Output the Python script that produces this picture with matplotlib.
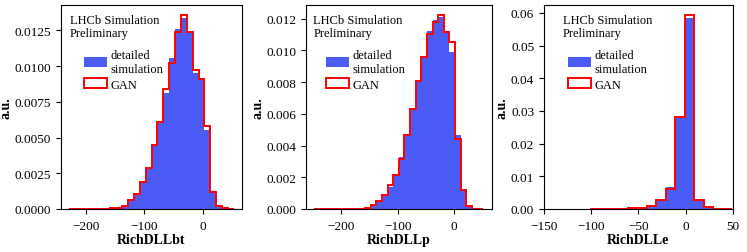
import matplotlib
matplotlib.use("Agg")
import matplotlib.pyplot as plt
from matplotlib.ticker import MultipleLocator
import numpy as np

plt.rcParams['font.family'] = ['Liberation Serif', 'DejaVu Serif']

# bin edges (10 units wide) and normalised bin contents
edges_bt = np.arange(-228, 53, 10)
sim_bt = [0.00001, 0.00001, 0.00001, 0.00001, 0.00002, 0.00002, 0.00003, 0.00004,
          0.00006, 0.0002, 0.00055, 0.001, 0.0018, 0.0028, 0.0044, 0.006,
          0.0081, 0.0106, 0.01257, 0.01336, 0.0123, 0.0095, 0.0092, 0.0055,
          0.0012, 0.00022, 0.00004, 0.00001]
gan_bt = [0.00001, 0.00001, 0.00001, 0.00001, 0.00002, 0.00002, 0.00003, 0.00004,
          0.00008, 0.00023, 0.0006, 0.00107, 0.00187, 0.0029, 0.0045, 0.0061,
          0.0084, 0.0102, 0.0124, 0.0136, 0.0124, 0.0097, 0.0091, 0.0058,
          0.0012, 0.0002, 0.00005, 0.00001]

edges_p = np.arange(-248, 53, 10)
sim_p = [0.00001, 0.00001, 0.00001, 0.00001, 0.00001, 0.00002, 0.00002, 0.00002, 0.00003,
         0.00005, 0.00022, 0.0005, 0.00095, 0.0014, 0.0022, 0.0033, 0.0047, 0.0064,
         0.0080, 0.00967, 0.01125, 0.01195, 0.0121, 0.0111, 0.00993, 0.00464, 0.00118,
         0.00018, 0.00003, 0.00001]
gan_p = [0.00001, 0.00001, 0.00001, 0.00001, 0.00001, 0.00002, 0.00002, 0.00002, 0.00003,
         0.00006, 0.00027, 0.00053, 0.0009, 0.00154, 0.00217, 0.00316, 0.00464, 0.00633,
         0.00808, 0.00961, 0.01104, 0.01179, 0.01225, 0.01115, 0.01052, 0.00439, 0.00122,
         0.0002, 0.00003, 0.00001]

edges_e = np.arange(-101, 50, 10)
sim_e = [0.00005, 0.00005, 0.0001, 0.0001, 0.00015, 0.0003, 0.0009, 0.0026, 0.0066,
         0.0279, 0.0585, 0.0027, 0.0004, 0.0001, 0.00004]
gan_e = [0.00005, 0.00005, 0.0001, 0.0001, 0.0002, 0.0004, 0.001, 0.0028, 0.0061,
         0.0281, 0.0594, 0.0028, 0.0005, 0.0001, 0.00005]

names = ['RichDLLbt', 'RichDLLp', 'RichDLLe']
ystep = [0.0025, 0.002, 0.01]

panels = [(edges_bt, sim_bt, gan_bt), (edges_p, sim_p, gan_p), (edges_e, sim_e, gan_e)]
# axes boxes in figure fractions
boxes = [[0.0817, 0.170, 0.2423, 0.806],
         [0.4096, 0.170, 0.2486, 0.806],
         [0.7282, 0.170, 0.2530, 0.806]]
text_x = [0.05, 0.04, 0.10]
leg_x = [0.127, 0.11, 0.129]

fig = plt.figure(figsize=(7.47, 2.53), dpi=100)

for i, (edges, sim, gan) in enumerate(panels):
	ax = fig.add_axes(boxes[i])
	centers = edges[:-1] + 5
	ax.hist(centers, bins=edges, weights=sim, histtype='stepfilled',
	        color='#4b5bf6', label='detailed\nsimulation')
	ax.hist(centers, bins=edges, weights=gan, histtype='step',
	        color='red', linewidth=1.4, label='GAN')
	ax.set_ylim(0, max(max(sim), max(gan)) * 1.05)
	if i == 2:
		ax.set_xlim(-150, 50)
	ax.xaxis.set_major_locator(MultipleLocator(100 if i < 2 else 50))
	ax.yaxis.set_major_locator(MultipleLocator(ystep[i]))
	ax.tick_params(labelsize=9.5)
	ax.tick_params(axis='x', pad=4.5)
	ax.set_xlabel(names[i], fontsize=10, fontweight='bold', labelpad=1)
	ax.set_ylabel('a.u.', fontsize=10, fontweight='bold', labelpad=1.5)
	ax.text(text_x[i], 0.958, 'LHCb Simulation\nPreliminary', transform=ax.transAxes,
	        fontsize=9, va='top', ha='left', linespacing=1.2)
	ax.legend(loc='upper left', bbox_to_anchor=(leg_x[i], 0.785), frameon=False,
	          fontsize=9, borderpad=0, borderaxespad=0, handletextpad=0.3,
	          labelspacing=0.3, handlelength=1.8, handleheight=0.8)

fig.savefig('out.png', dpi=100)
